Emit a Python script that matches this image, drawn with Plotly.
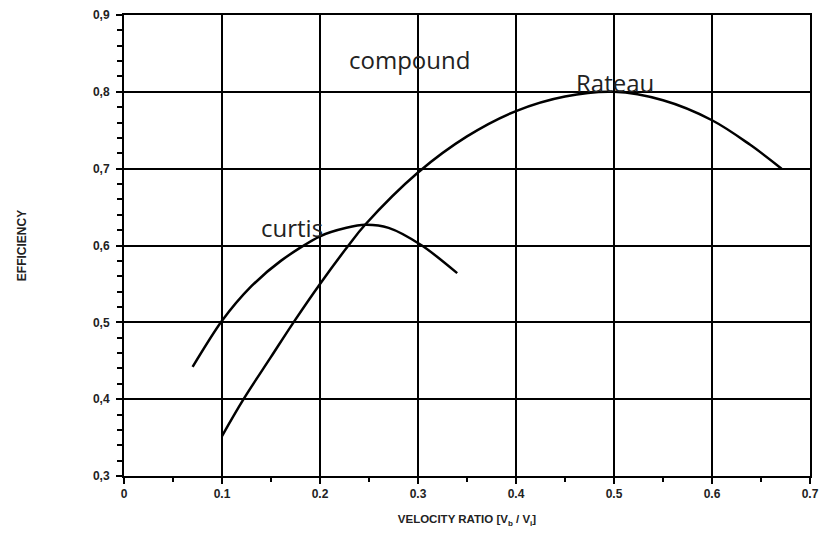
import plotly.graph_objects as go

# Data
rateau_x = [0.10, 0.122, 0.15, 0.173, 0.20, 0.229, 0.246, 0.30, 0.35, 0.40, 0.45, 0.50, 0.55, 0.60, 0.639, 0.671]
rateau_y = [0.352, 0.40, 0.455, 0.50, 0.550, 0.600, 0.627, 0.695, 0.742, 0.775, 0.794, 0.800, 0.789, 0.763, 0.731, 0.700]

curtis_x = [0.07, 0.10, 0.13, 0.16, 0.20, 0.227, 0.246, 0.27, 0.304, 0.34]
curtis_y = [0.442, 0.502, 0.547, 0.580, 0.612, 0.623, 0.627, 0.623, 0.600, 0.564]

x_tick_vals = [0, 0.1, 0.2, 0.3, 0.4, 0.5, 0.6, 0.7]
x_tick_text = ["0", "0.1", "0.2", "0.3", "0.4", "0.5", "0.6", "0.7"]
y_tick_vals = [0.3, 0.4, 0.5, 0.6, 0.7, 0.8, 0.9]
y_tick_text = ["0,3", "0,4", "0,5", "0,6", "0,7", "0,8", "0,9"]

labels = ["compound", "Rateau", "curtis"]
label_x = [0.291, 0.501, 0.171]
label_y = [0.842, 0.812, 0.623]

fig = go.Figure()
fig.add_trace(go.Scatter(x=rateau_x, y=rateau_y, mode="lines", name="Rateau",
                         line=dict(color="black", width=2.5, shape="spline", smoothing=1.0)))
fig.add_trace(go.Scatter(x=curtis_x, y=curtis_y, mode="lines", name="curtis",
                         line=dict(color="black", width=2.5, shape="spline", smoothing=0.8)))

for t, xx, yy in zip(labels, label_x, label_y):
    fig.add_annotation(x=xx, y=yy, text=t, showarrow=False,
                       font=dict(family="Open Sans", size=24, color="#222"))

tickfont = dict(family="Liberation Sans", size=12, color="#222", weight="bold")

# page body adds an 8px margin, so the figure is sized to fit the 827x549 window
fig.update_layout(
    width=819, height=541,
    margin=dict(l=116, r=17, t=7, b=73, autoexpand=False),
    paper_bgcolor="white", plot_bgcolor="white",
    showlegend=False,
    xaxis=dict(range=[0, 0.7], tickvals=x_tick_vals, ticktext=x_tick_text,
               showgrid=True, gridcolor="black", gridwidth=1.8, automargin=False,
               showline=True, linecolor="black", linewidth=2, mirror=True,
               ticks="outside", ticklen=6, tickcolor="black", tickwidth=1.5,
               minor=dict(dtick=0.05, ticks="outside", ticklen=4, tickcolor="black", showgrid=False),
               tickfont=tickfont, zeroline=False,
               title=dict(text="VELOCITY RATIO [V<sub>b</sub> / V<sub>i</sub>]",
                          font=dict(family="Liberation Sans", size=11.5, color="#222", weight="bold"),
                          standoff=15)),
    yaxis=dict(range=[0.3, 0.9], tickvals=y_tick_vals, ticktext=y_tick_text,
               showgrid=True, gridcolor="black", gridwidth=1.8, automargin=False,
               showline=True, linecolor="black", linewidth=2, mirror=True,
               ticks="outside", ticklen=6, tickcolor="black", tickwidth=1.5,
               ticklabelstandoff=4,
               minor=dict(dtick=0.02, ticks="outside", ticklen=5, tickcolor="black", showgrid=False),
               tickfont=tickfont, zeroline=False,
               title=dict(text="EFFICIENCY",
                          font=dict(family="Liberation Sans", size=12, color="#222", weight="bold"),
                          standoff=64)),
)

fig.write_html("out.html")
